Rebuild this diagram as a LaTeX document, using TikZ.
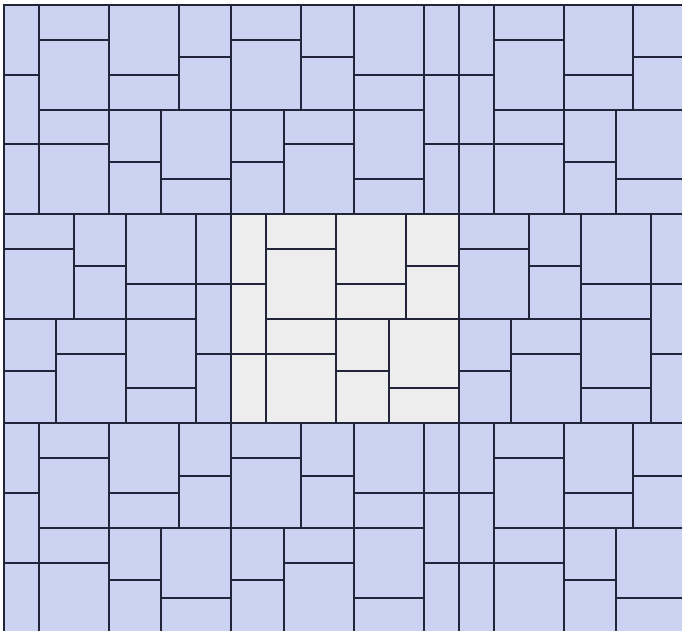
\documentclass[tikz,border=0pt]{standalone}
\definecolor{tileblue}{HTML}{CCD3F2}
\definecolor{tilegray}{HTML}{EDEDED}
\definecolor{edge}{HTML}{22253A}
\tikzset{piece/.style={draw=edge, line width=1pt, line join=miter}}
\newcommand\tileA[1]{%
  \foreach \pa/\pb/\pc/\pd in {0/0/1/2, 0/2/1/4, 0/4/1/6,
      1/0/3/1, 1/1/3/3, 1/3/3/4, 1/4/3/6,
      3/0/5/2, 3/2/5/3, 5/0/6.5/1.5, 5/1.5/6.5/3,
      3/3/4.5/4.5, 3/4.5/4.5/6, 4.5/3/6.5/5, 4.5/5/6.5/6}
    {\filldraw[piece, fill=#1] (\pa,\pb) rectangle (\pc,\pd);}}
\newcommand\tileB[1]{%
  \foreach \pa/\pb/\pc/\pd in {0/0/2/1, 0/1/2/3, 2/0/3.5/1.5, 2/1.5/3.5/3,
      3.5/0/5.5/2, 5.5/0/6.5/2, 3.5/2/5.5/3, 5.5/2/6.5/4,
      0/3/1.5/4.5, 0/4.5/1.5/6, 1.5/3/3.5/4, 1.5/4/3.5/6,
      3.5/3/5.5/5, 3.5/5/5.5/6, 5.5/4/6.5/6}
    {\filldraw[piece, fill=#1] (\pa,\pb) rectangle (\pc,\pd);}}
\begin{document}
\begin{tikzpicture}[x=0.5pt,y=-0.5pt]
\useasboundingbox (0,0) rectangle (682,631);
\fill[white] (0,0) rectangle (682,631);
\clip (0,0) rectangle (682,631);
\foreach \ti/\tj/\tt/\tc in {0/0/A/tileblue, 1/0/B/tileblue, 2/0/A/tileblue,
    0/1/B/tileblue, 1/1/A/tilegray, 2/1/B/tileblue,
    0/2/A/tileblue, 1/2/B/tileblue, 2/2/A/tileblue} {
  \begin{scope}[shift={({(4+227.3*\ti)*0.5pt},{-(5+209.2*\tj)*0.5pt})}, x=17.485pt, y=-17.43pt]
    \csname tile\tt\endcsname{\tc}
  \end{scope}
}
\end{tikzpicture}
\end{document}
